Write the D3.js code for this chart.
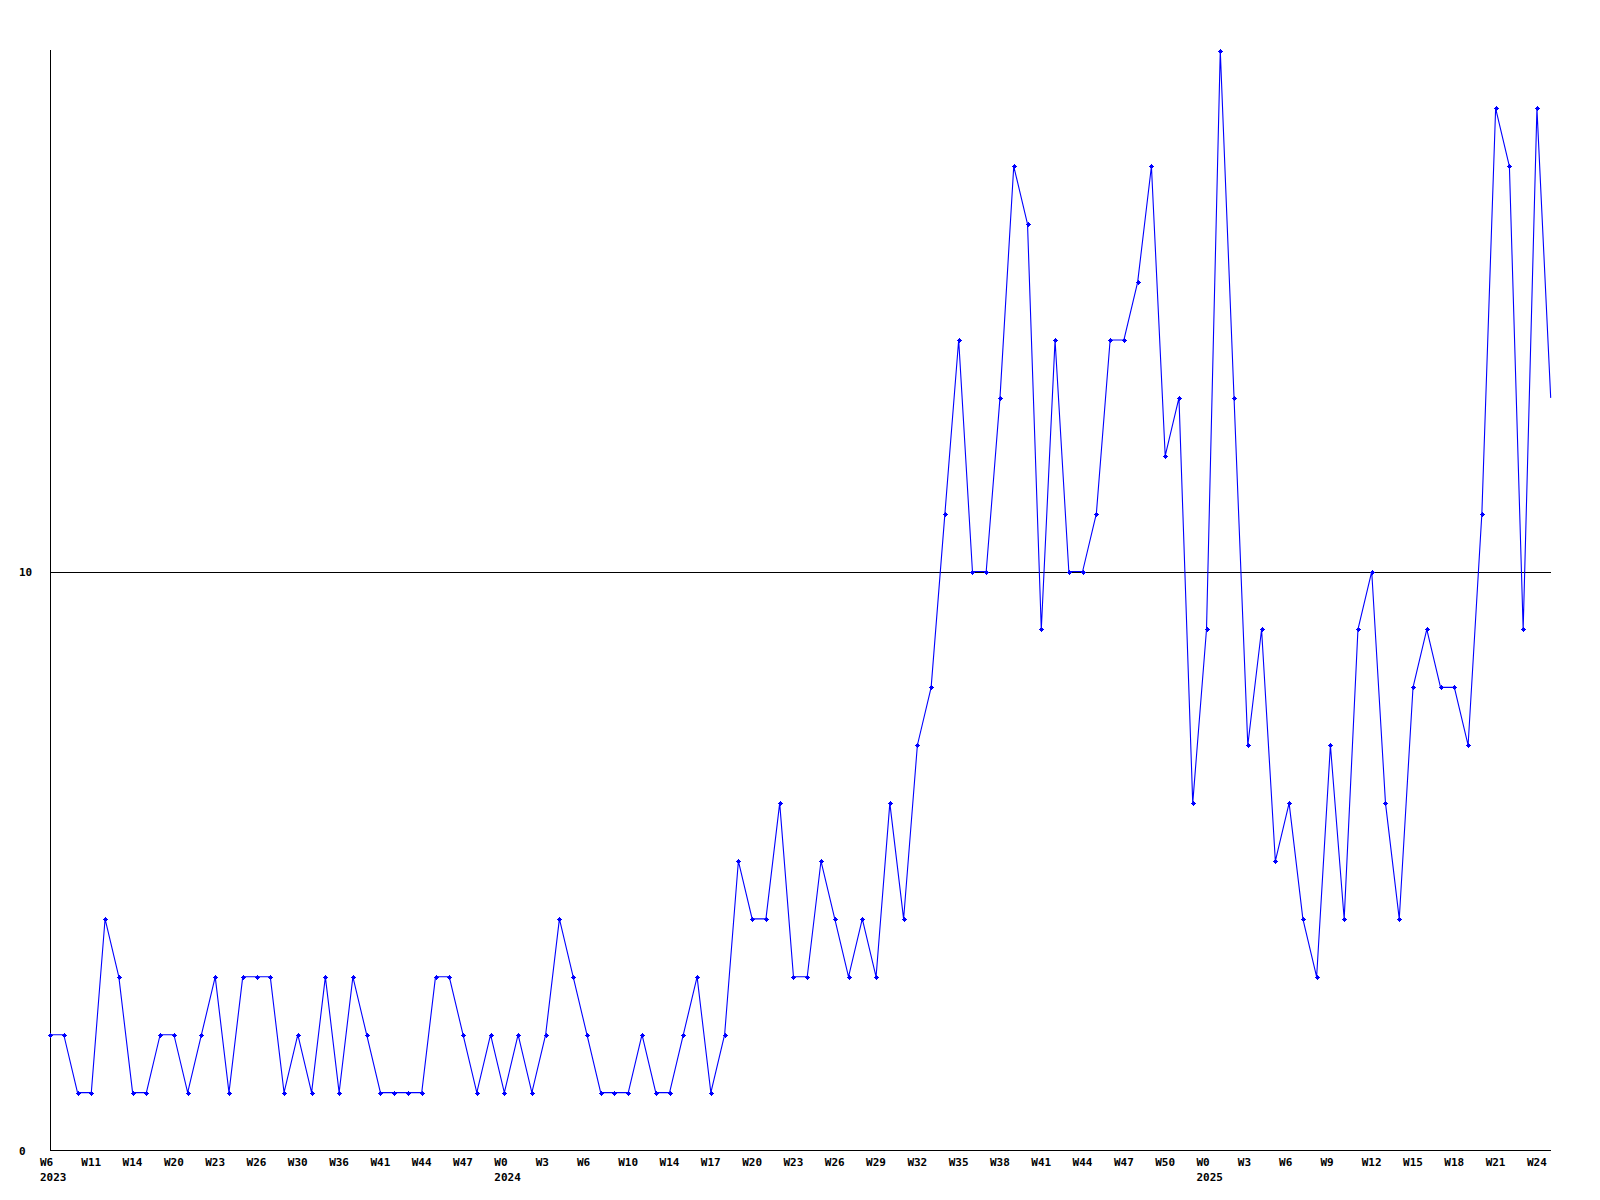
<!DOCTYPE html>
<html>
<head>
<meta charset="utf-8">
<script src="https://cdn.jsdelivr.net/npm/d3@7/dist/d3.min.js"></script>
<style>
  html, body { margin: 0; padding: 0; background: #fff; }
  svg { display: block; }
  text { font-family: "DejaVu Sans Mono", "Liberation Mono", monospace; font-weight: bold; font-size: 11px; fill: #000; }
</style>
</head>
<body>
<script>
// Weekly counts, 2023 W6 .. 2025 W25 (one value per point)
const values = [
  2,2,1,1,4,3,1,1,2,2,
  1,2,3,1,3,3,3,1,2,1,
  3,1,3,2,1,1,1,1,3,3,
  2,1,2,1,2,1,2,4,3,2,
  1,1,1,2,1,1,2,3,1,2,
  5,4,4,6,3,3,5,4,3,4,
  3,6,4,7,8,11,14,10,10,13,
  17,16,9,14,10,10,11,14,14,15,
  17,12,13,6,9,19,13,7,9,5,
  6,4,3,7,4,9,10,6,4,8,
  9,8,8,7,11,18,17,9,18,13
];
// Tick labels, one every third point
const tickLabels = ["W6","W11","W14","W20","W23","W26","W30","W36","W41","W44","W47",
  "W0","W3","W6","W10","W14","W17","W20","W23","W26","W29","W32","W35","W38","W41","W44","W47","W50",
  "W0","W3","W6","W9","W12","W15","W18","W21","W24"];
const tickStep = 3;
// Year labels placed under the first tick of each year
const yearLabels = [{tick: 0, year: "2023"}, {tick: 11, year: "2024"}, {tick: 28, year: "2025"}];
const yTicks = [0, 10];
const yMax = 19;

const W = 1600, H = 1200;
const svg = d3.select("body").append("svg").attr("width", W).attr("height", H);

const x = d3.scaleLinear().domain([0, values.length - 1]).range([50, 1550.7]);
const y = d3.scaleLinear().domain([0, yMax]).range([1150.5, 50.5]);

// horizontal reference lines
svg.selectAll("line.grid").data(yTicks.filter(d => d > 0)).join("line")
  .attr("class", "grid")
  .attr("x1", 50).attr("x2", 1550.7)
  .attr("y1", d => Math.round(y(d)) + 0.5).attr("y2", d => Math.round(y(d)) + 0.5)
  .attr("stroke", "#000").attr("stroke-width", 1).attr("shape-rendering", "crispEdges");

// axes lines
svg.append("line").attr("x1", 50.5).attr("x2", 50.5).attr("y1", 50).attr("y2", 1151)
  .attr("stroke", "#000").attr("shape-rendering", "crispEdges");
svg.append("line").attr("x1", 50).attr("x2", 1550.7).attr("y1", 1150.5).attr("y2", 1150.5)
  .attr("stroke", "#000").attr("shape-rendering", "crispEdges");

// y labels
svg.selectAll("text.ylab").data(yTicks).join("text")
  .attr("class", "ylab")
  .attr("x", 19)
  .attr("y", d => y(d) + 4)
  .text(d => d);

// x labels
svg.selectAll("text.xlab").data(tickLabels).join("text")
  .attr("class", "xlab")
  .attr("x", (d, i) => x(i * tickStep) - 10)
  .attr("y", 1166)
  .text(d => d);

svg.selectAll("text.year").data(yearLabels).join("text")
  .attr("class", "year")
  .attr("x", d => x(d.tick * tickStep) - 10)
  .attr("y", 1181)
  .text(d => d.year);

// data line
const line = d3.line().x((d, i) => x(i)).y(d => y(d));
svg.append("path").datum(values)
  .attr("d", line)
  .attr("fill", "none")
  .attr("stroke", "#0000ff")
  .attr("stroke-width", 1.1);

// markers (all but the last point)
const cross = "M-2.5,-0.5h5v1h-5z M-0.5,-2.5h1v5h-1z M-1.5,-1.5h3v3h-3z";
svg.selectAll("path.mk").data(values.slice(0, -1)).join("path")
  .attr("class", "mk")
  .attr("transform", (d, i) => `translate(${Math.round(x(i)) + 0.5},${Math.round(y(d)) + 0.5})`)
  .attr("d", cross)
  .attr("fill", "#0000ff")
  .attr("shape-rendering", "crispEdges");
</script>
</body>
</html>
